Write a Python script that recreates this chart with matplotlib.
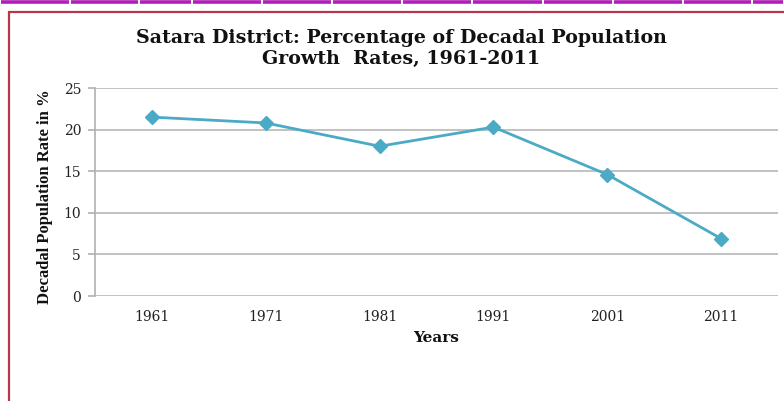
import matplotlib
matplotlib.use("Agg")
import matplotlib.pyplot as plt
from matplotlib.lines import Line2D
from matplotlib.patches import Rectangle

years = ["1961", "1971", "1981", "1991", "2001", "2011"]
growth_rate = [21.5, 20.8, 18.0, 20.3, 14.6, 6.9]
y_ticks = [0, 5, 10, 15, 20, 25]

plt.rcParams["font.family"] = ["DejaVu Serif"]

fig = plt.figure(figsize=(7.84, 4.01), dpi=100)
fig.patch.set_facecolor("white")

# page decoration: magenta rule at the top and red frame around the chart
W, H = 784, 401
gaps = [70, 139, 192, 262, 332, 402, 472, 543, 613, 683, 752]
edges = [0] + gaps + [W]
for a, b in zip(edges[:-1], edges[1:]):
    fig.add_artist(Line2D([(a + 1) / W, (b - 1) / W], [1 - 2 / H, 1 - 2 / H],
                          color="#b21fb8", lw=2.6, transform=fig.transFigure,
                          solid_capstyle="butt"))
fig.add_artist(Rectangle((8.5 / W, -0.05), 1.0, 1 - 11.5 / H + 0.05,
                         transform=fig.transFigure, fill=False,
                         edgecolor="#b5384a", lw=1.6))

ax = fig.add_axes([95 / W, 1 - 296 / H, (778 - 95) / W, 208 / H])
x = list(range(len(years)))
ax.plot(x, growth_rate, color="#4babc6", lw=2.0, marker="D",
        markersize=7.5, markerfacecolor="#4babc6", markeredgecolor="#4babc6",
        zorder=3)

ax.set_xlim(-0.5, len(years) - 0.5)
ax.set_ylim(0, 25)
ax.set_yticks(y_ticks)
ax.set_xticks(x)
ax.set_xticklabels(years)
ax.yaxis.grid(True, color="#bdbdbd", lw=1.3)
ax.set_axisbelow(True)
for side in ("top", "right", "bottom"):
    ax.spines[side].set_visible(False)
ax.spines["left"].set_color("#b0b0b0")
ax.spines["left"].set_linewidth(1.2)
ax.tick_params(axis="y", length=5, color="#b0b0b0", width=1.2, pad=5,
               labelsize=10, labelcolor="#222222")
ax.tick_params(axis="x", length=0, pad=10, labelsize=10,
               labelcolor="#222222")

ax.set_xlabel("Years", fontsize=11, fontweight="bold", labelpad=5,
              color="#111111")
ax.set_ylabel("Decadal Population Rate in %", fontsize=12,
              fontweight="bold", color="#111111",
              family="Liberation Serif")
ax.yaxis.set_label_coords(-0.062, 0.476)

fig.text(401 / W, 1 - 48.5 / H,
         "Satara District: Percentage of Decadal Population\nGrowth  Rates, 1961-2011",
         ha="center", va="center", fontsize=13.7, fontweight="bold",
         linespacing=1.25, color="#111111")

fig.savefig("out.png", dpi=100, facecolor="white")
